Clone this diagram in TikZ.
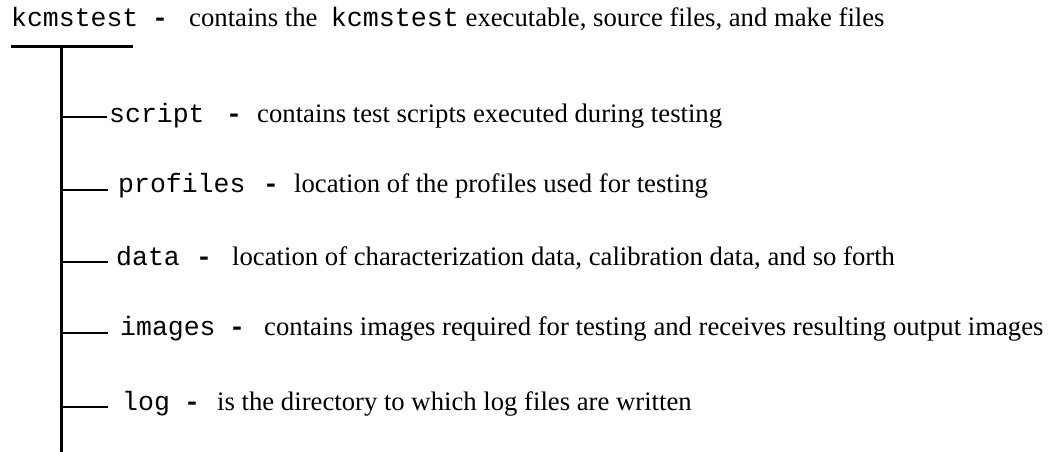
\documentclass[tikz,border=0pt]{standalone}
\usepackage{fontspec}
\setmainfont{Liberation Serif}
\setmonofont{Liberation Mono}

\begin{document}
\begin{tikzpicture}[x=1pt, y=-1pt, trunk/.style={line width=3pt}, branch/.style={line width=1.2pt},
	dir/.style={font=\fontsize{26.5}{32}\selectfont\ttfamily, anchor=base west, inner sep=0pt},
	sepdash/.style={font=\fontsize{26.5}{32}\selectfont\ttfamily\bfseries, anchor=base west, inner sep=0pt},
	desc/.style={font=\fontsize{26.7}{32}\selectfont, anchor=base west, inner sep=0pt}]
	\useasboundingbox (0,0) rectangle (1049,452);
	% root directory
	\node[dir] (kcm) at (11,27) {kcmstest};
	\node[sepdash] (kcm-dash) at (152,27) {-};
	\node[desc] (kcm-desc) at (189,27) {contains the \ \texttt{kcmstest} executable, source files, and make files};
	\coordinate (root-l) at (11,47);
	\coordinate (root-r) at (133,47);
	\coordinate (root-j) at (61,47);
	\coordinate (root-end) at (61,452);
	\draw[trunk] (root-l) -- (root-r);
	\draw[trunk] (root-j) -- (root-end);
	% sub directories
	\node[dir] (script) at (109,122) {script};
	\node[sepdash] (script-dash) at (226,122) {-};
	\node[desc] (script-desc) at (257,122) {contains test scripts executed during testing};
	\node[dir] (profiles) at (118,192) {profiles};
	\node[sepdash] (profiles-dash) at (263,192) {-};
	\node[desc] (profiles-desc) at (294,192) {location of the profiles used for testing};
	\node[dir] (data) at (116,265) {data};
	\node[sepdash] (data-dash) at (196,265) {-};
	\node[desc] (data-desc) at (232,265) {location of characterization data, calibration data, and so forth};
	\node[dir] (images) at (120,335) {images};
	\node[sepdash] (images-dash) at (229,335) {-};
	\node[desc] (images-desc) at (264,335) {contains images required for testing and receives resulting output images};
	\node[dir] (log) at (122,410) {log};
	\node[sepdash] (log-dash) at (184,410) {-};
	\node[desc] (log-desc) at (217,410) {is the directory to which log files are written};
	% branches off the trunk
	\coordinate (j-script) at (61,117);
	\coordinate (j-profiles) at (61,190);
	\coordinate (j-data) at (61,262);
	\coordinate (j-images) at (61,333);
	\coordinate (j-log) at (61,407);
	\draw[branch] (j-script) -- ++(46,0);
	\draw[branch] (j-profiles) -- ++(47,0);
	\draw[branch] (j-data) -- ++(47,0);
	\draw[branch] (j-images) -- ++(47,0);
	\draw[branch] (j-log) -- ++(47,0);
\end{tikzpicture}
\end{document}
